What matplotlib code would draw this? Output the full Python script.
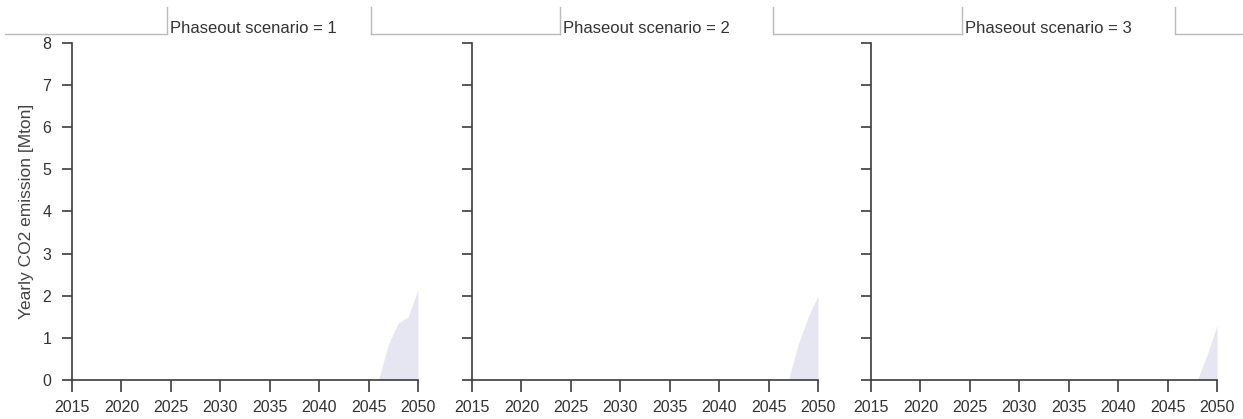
import numpy as np
import matplotlib.pyplot as plt
from matplotlib.lines import Line2D

plt.rcParams['font.family'] = ['Liberation Sans', 'DejaVu Sans']

# Data
years = np.arange(2015, 2051)
scenarios = [1, 2, 3]
tail_1 = [0.0, 0.85, 1.35, 1.5, 2.15]   # 2046..2050
tail_2 = [0.0, 0.85, 1.5, 2.0]          # 2047..2050
tail_3 = [0.0, 0.6, 1.3]                # 2048..2050
emission_1 = [0.0] * (len(years) - len(tail_1)) + tail_1
emission_2 = [0.0] * (len(years) - len(tail_2)) + tail_2
emission_3 = [0.0] * (len(years) - len(tail_3)) + tail_3
emissions = [emission_1, emission_2, emission_3]
xticks = list(range(2015, 2051, 5))
yticks = list(range(0, 9))

fig = plt.figure(figsize=(12.43, 4.19), dpi=100)
lefts = [0.0579, 0.3797, 0.7007]
axcol = '#3c3c3c'
fillcol = '#e6e6f2'

for i, (left, sc, em) in enumerate(zip(lefts, scenarios, emissions)):
    ax = fig.add_axes([left, 0.0931, 0.2784, 0.8043])
    ax.fill_between(years, em, 0, color=fillcol, linewidth=0)
    ax.set_xlim(2015, 2050)
    ax.set_ylim(0, 8)
    ax.set_xticks(xticks)
    ax.set_yticks(yticks)
    for s in ['top', 'right']:
        ax.spines[s].set_visible(False)
    for s in ['left', 'bottom']:
        ax.spines[s].set_color(axcol)
        ax.spines[s].set_linewidth(1.2)
    ax.tick_params(direction='out', width=1.2, color=axcol,
                   labelcolor='#333333', labelsize=11.5)
    ax.tick_params(axis='x', length=8.5, pad=6)
    ax.tick_params(axis='y', length=7, pad=8)
    if i == 0:
        ax.set_ylabel('Yearly CO2 emission [Mton]', fontsize=12.5, color='#444444', labelpad=6)
    else:
        ax.set_yticklabels([])

# Facet strip with titles
strip_y = 1 - 34 / 419
top_y = 1 - 7 / 419
boxes = [(167, 371), (560, 773), (962, 1175)]
linecol = '#bbbbbb'
segs = [(5, 167), (371, 560), (773, 962), (1175, 1243)]
for a, b in segs:
    fig.add_artist(Line2D([a / 1243, b / 1243], [strip_y, strip_y], color=linecol, lw=1))
for (a, b), sc in zip(boxes, scenarios):
    for xx in (a, b):
        fig.add_artist(Line2D([xx / 1243, xx / 1243], [strip_y, top_y], color=linecol, lw=1))
    fig.text((a + 3) / 1243, 1 - 36 / 419, f'Phaseout scenario = {sc}',
             fontsize=12, color='#333333', ha='left', va='bottom')

fig.savefig('out.png', dpi=100)
